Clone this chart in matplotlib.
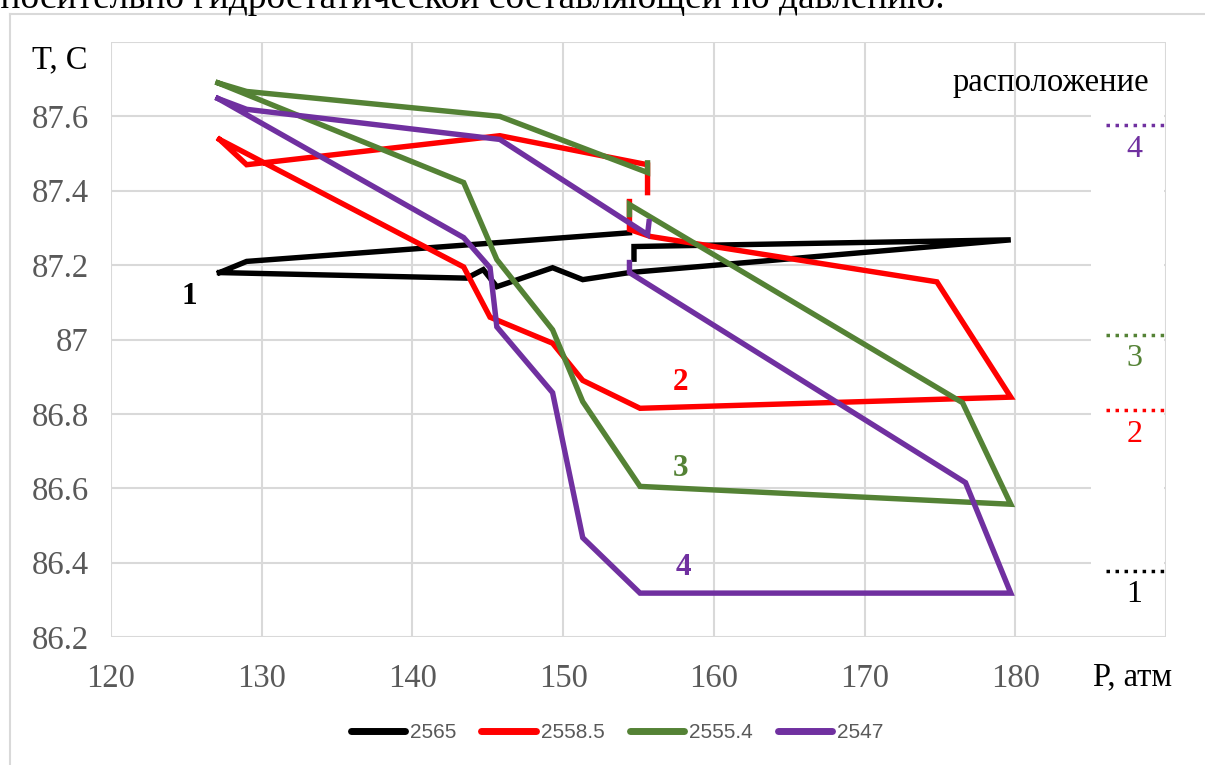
import numpy as np
import matplotlib
matplotlib.use("Agg")
import matplotlib.pyplot as plt
from matplotlib.lines import Line2D
from matplotlib.patches import Rectangle

# Pressure (atm) / temperature (C) paths for each depth; NaN marks a break in the record
p_2565 = [127.2, 129.0, 154.4, np.nan, 154.7, 154.7, 179.7, 154.4, 151.3, 149.3, 145.6, 144.7, 143.6, 127.2]
t_2565 = [87.18, 87.21, 87.287, np.nan, 87.216, 87.25, 87.268, 87.18, 87.161, 87.193, 87.142, 87.188, 87.165, 87.18]

p_2558_5 = [127.2, 129.0, 145.8, 155.6, 155.6, np.nan, 154.4, 154.4, 155.8, 174.8, 179.7, 155.1, 151.3, 149.3, 145.15, 143.4, 127.2]
t_2558_5 = [87.538, 87.47, 87.548, 87.47, 87.395, np.nan, 87.371, 87.296, 87.277, 87.155, 86.845, 86.815, 86.89, 86.99, 87.06, 87.195, 87.538]

p_2555_4 = [127.1, 129.0, 145.8, 155.6, 155.6, np.nan, 154.4, 154.4, 176.5, 179.7, 155.1, 151.3, 149.3, 145.6, 143.4, 127.1]
t_2555_4 = [87.69, 87.667, 87.6, 87.449, 87.475, np.nan, 87.336, 87.363, 86.83, 86.557, 86.605, 86.833, 87.026, 87.215, 87.422, 87.69]

p_2547 = [127.1, 129.0, 145.8, 155.6, 155.7, np.nan, 154.4, 154.4, 176.7, 179.7, 155.1, 151.3, 149.3, 145.6, 145.15, 143.4, 127.1]
t_2547 = [87.648, 87.619, 87.538, 87.282, 87.317, np.nan, 87.207, 87.18, 86.615, 86.318, 86.318, 86.467, 86.857, 87.034, 87.193, 87.274, 87.648]

series_names = ["2565", "2558.5", "2555.4", "2547"]
series_p = [p_2565, p_2558_5, p_2555_4, p_2547]
series_t = [t_2565, t_2558_5, t_2555_4, t_2547]
series_colors = ["#000000", "#FF0000", "#548235", "#7030A0"]

# Curve numbers placed next to the curves
curve_labels = ["1", "2", "3", "4"]
curve_label_p = [125.2, 157.8, 157.8, 158.0]
curve_label_t = [87.115, 86.885, 86.652, 86.388]

# Location marks on the right margin
mark_t = [86.378, 86.81, 87.013, 87.576]

x_ticks = [120, 130, 140, 150, 160, 170, 180, 190]
y_ticks = [86.2, 86.4, 86.6, 86.8, 87.0, 87.2, 87.4, 87.6, 87.8]
y_tick_labels = ["86.2", "86.4", "86.6", "86.8", "87", "87.2", "87.4", "87.6", ""]
x_tick_labels = ["120", "130", "140", "150", "160", "170", "180", ""]

serif = "Liberation Serif"
tick_gray = "#595959"
grid_gray = "#D9D9D9"

fig = plt.figure(figsize=(12.05, 7.65), dpi=100)
ax = fig.add_axes([111 / 1205, 1 - 637 / 765, (1166 - 111) / 1205, (637 - 42) / 765])

ax.set_xlim(120, 190)
ax.set_ylim(86.2, 87.8)
ax.set_xticks(x_ticks)
ax.set_yticks(y_ticks)
ax.set_xticklabels(x_tick_labels, fontfamily=serif, fontsize=23.5, color=tick_gray)
ax.set_yticklabels(y_tick_labels, fontfamily=serif, fontsize=23.5, color=tick_gray)
ax.tick_params(length=0)
ax.tick_params(axis="y", pad=16)
ax.tick_params(axis="x", pad=19)
ax.grid(True, color=grid_gray, linewidth=1.5)
ax.set_axisbelow(True)
for sp in ax.spines.values():
    sp.set_visible(False)

for name, p, t, c in zip(series_names, series_p, series_t, series_colors):
    ax.plot(p, t, color=c, linewidth=3.9, solid_joinstyle="miter", label=name, zorder=3)

for lab, px, ty, c in zip(curve_labels, curve_label_p, curve_label_t, series_colors):
    ax.text(px, ty, lab, color=c, fontfamily=serif, fontweight="bold", fontsize=22.5,
            ha="center", va="center", zorder=5)

# White note box on the right with the location marks
ax.add_patch(Rectangle((185.0, 86.205), 4.85, 1.52, facecolor="white", edgecolor="none", zorder=2))
for lab, ty, c in zip(curve_labels, mark_t, series_colors):
    ax.plot([186.0, 190.0], [ty, ty], color=c, linewidth=2.5, linestyle=(0, (1, 1.6)),
            solid_capstyle="butt", zorder=4, clip_on=False)
    ax.text(187.9, ty - 0.065, lab, color=c, fontfamily=serif, fontsize=23,
            ha="center", va="center", zorder=5)

fig.text(1051 / 1205, 1 - 83 / 765, "расположение", fontfamily=serif, fontsize=23.5,
         ha="center", va="center", color="black")
fig.text(88 / 1205, 1 - 60 / 765, "T, C", fontfamily=serif, fontsize=23.5,
         ha="right", va="center", color="black")
fig.text(1133 / 1205, 1 - 677 / 765, "P, атм", fontfamily=serif, fontsize=23.5,
         ha="center", va="center", color="black",
         bbox=dict(facecolor="white", edgecolor="none", pad=2))

# Chart frame
fig.add_artist(Line2D([10 / 1205, 10 / 1205], [0, 1 - 14 / 765], color=grid_gray, linewidth=1.5))
fig.add_artist(Line2D([10 / 1205, 1], [1 - 14 / 765, 1 - 14 / 765], color=grid_gray, linewidth=1.5))

# Running text of the page above the chart
fig.text(945 / 1205, 1 - 8 / 765, "относительно гидростатической составляющей по давлению.",
         fontfamily=serif, fontsize=27, ha="right", va="baseline", color="black")

leg = fig.legend(loc="center", bbox_to_anchor=(617 / 1205, 1 - 733 / 765), ncol=4, frameon=False,
                 prop={"family": "Liberation Sans", "size": 15},
                 handlelength=2.6, handletextpad=0.25, columnspacing=1.2)
for line in leg.get_lines():
    line.set_linewidth(5)
    line.set_solid_capstyle("round")
for txt in leg.get_texts():
    txt.set_color(tick_gray)

fig.savefig("out.png", dpi=100)
